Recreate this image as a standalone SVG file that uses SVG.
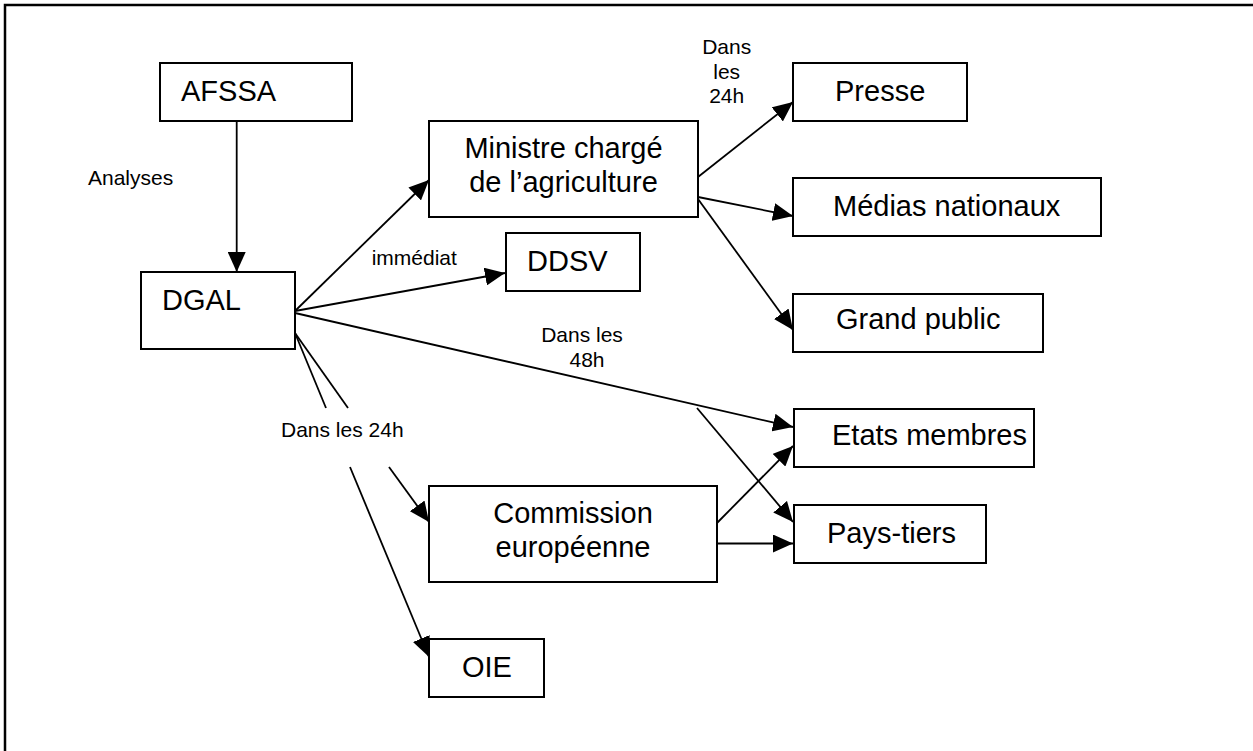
<svg xmlns="http://www.w3.org/2000/svg" width="1253" height="751" viewBox="0 0 1253 751">
  <style>
    .box { fill: #fff; stroke: #000; stroke-width: 2; }
    .t { font-family: "Liberation Sans", Arial, sans-serif; font-size: 29px; fill: #000; }
    .lbl { font-family: "Liberation Sans", Arial, sans-serif; font-size: 21px; fill: #000; }
    .c { stroke: #000; stroke-width: 1.8; fill: none; }
    .arr { marker-end: url(#ah); }
  </style>
  <defs>
    <marker id="ah" viewBox="0 0 20 18" markerWidth="20" markerHeight="18" refX="20" refY="9" orient="auto" markerUnits="userSpaceOnUse">
      <path d="M0,0 L20,9 L0,18 z" fill="#000"/>
    </marker>
    <clipPath id="clipImm">
      <rect x="360" y="240" width="110" height="26"/>
    </clipPath>
  </defs>
  <rect x="0" y="0" width="1253" height="751" fill="#fff"/>
  <rect x="5" y="5" width="1300" height="800" fill="none" stroke="#000" stroke-width="2.5"/>

  <g id="connectors">
    <line class="c arr" x1="236.7" y1="121" x2="236.7" y2="272"/>
    <line class="c arr" x1="295" y1="311" x2="429" y2="180"/>
    <line class="c arr" x1="295" y1="311" x2="505" y2="273"/>
    <line class="c arr" x1="295" y1="313" x2="793" y2="427"/>
    <line class="c arr" x1="697" y1="408" x2="793" y2="522"/>
    <line class="c" x1="295" y1="333" x2="326" y2="408"/>
    <line class="c arr" x1="350" y1="467" x2="429" y2="657"/>
    <line class="c" x1="295" y1="333" x2="348" y2="408"/>
    <line class="c arr" x1="389" y1="467" x2="429" y2="522"/>
    <line class="c arr" x1="717" y1="523" x2="793" y2="446"/>
    <line class="c arr" x1="717" y1="543.5" x2="793" y2="543.5"/>
    <line class="c arr" x1="698" y1="177" x2="793" y2="102"/>
    <line class="c arr" x1="698" y1="197" x2="793" y2="216"/>
    <line class="c arr" x1="698" y1="199" x2="793" y2="330"/>
    <text class="lbl" x="88" y="185">Analyses</text>
    <text class="lbl" x="371.7" y="265" clip-path="url(#clipImm)">immédiat</text>
    <text class="lbl" x="281" y="437">Dans les 24h</text>
    <text class="lbl" x="582" y="342" text-anchor="middle">Dans les</text>
    <text class="lbl" x="587" y="367" text-anchor="middle">48h</text>
    <text class="lbl" x="726.7" y="54" text-anchor="middle">Dans</text>
    <text class="lbl" x="726.7" y="79" text-anchor="middle">les</text>
    <text class="lbl" x="726.7" y="103" text-anchor="middle">24h</text>
  </g>

  <g id="afssa">
    <rect class="box" x="160" y="63" width="192" height="58"/>
    <text class="t" x="181" y="101">AFSSA</text>
  </g>
  <g id="dgal">
    <rect class="box" x="141" y="272" width="154" height="77"/>
    <text class="t" x="162" y="310">DGAL</text>
  </g>
  <g id="ministre">
    <rect class="box" x="429" y="121" width="269" height="96"/>
    <text class="t" x="563.5" y="158" text-anchor="middle">Ministre chargé</text>
    <text class="t" x="563.5" y="192" text-anchor="middle">de l’agriculture</text>
  </g>
  <g id="ddsv">
    <rect class="box" x="506" y="233" width="134" height="58"/>
    <text class="t" x="527" y="271">DDSV</text>
  </g>
  <g id="commission">
    <rect class="box" x="429" y="486" width="288" height="96"/>
    <text class="t" x="573" y="523" text-anchor="middle">Commission</text>
    <text class="t" x="573" y="557" text-anchor="middle">européenne</text>
  </g>
  <g id="oie">
    <rect class="box" x="429" y="639" width="115" height="58"/>
    <text class="t" x="462" y="677">OIE</text>
  </g>
  <g id="presse">
    <rect class="box" x="793" y="63" width="174" height="58"/>
    <text class="t" x="835" y="101">Presse</text>
  </g>
  <g id="medias">
    <rect class="box" x="793" y="178" width="308" height="58"/>
    <text class="t" x="833" y="216">Médias nationaux</text>
  </g>
  <g id="grandpublic">
    <rect class="box" x="793" y="294" width="250" height="58"/>
    <text class="t" x="836" y="329">Grand public</text>
  </g>
  <g id="etats">
    <rect class="box" x="794" y="409" width="240" height="58"/>
    <text class="t" x="832" y="445">Etats membres</text>
  </g>
  <g id="paystiers">
    <rect class="box" x="794" y="505" width="192" height="58"/>
    <text class="t" x="827" y="543">Pays-tiers</text>
  </g>
</svg>
